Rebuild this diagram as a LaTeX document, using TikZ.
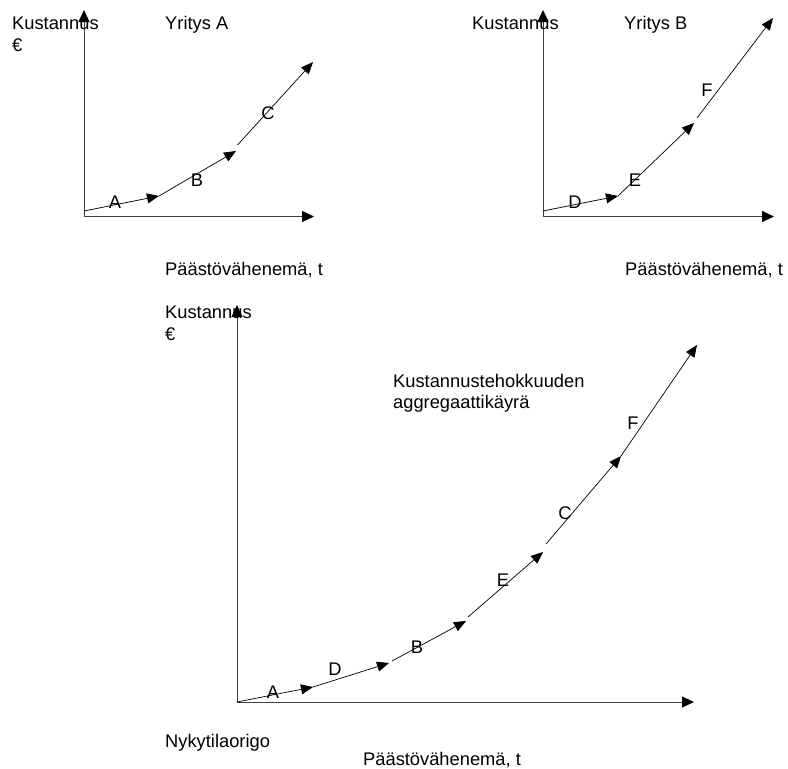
\documentclass[tikz,border=0pt]{standalone}
\usepackage{fontspec}
\setmainfont{Liberation Sans}
\usetikzlibrary{arrows.meta}
\begin{document}
\begin{tikzpicture}[x=1pt,y=-1pt,
  axis/.style={draw=black!75,line width=0.9pt,-{Triangle[length=12pt,width=11pt,fill=black,color=black]}},
  seg/.style={draw=black,line width=0.7pt,-{Triangle[length=12pt,width=10pt]}},
  segplain/.style={draw=black,line width=0.7pt},
  txt/.style={inner sep=0pt,anchor=base west,font=\fontsize{18.3}{21}\selectfont},
  lbl/.style={inner sep=0pt,anchor=center,font=\fontsize{18.3}{21}\selectfont}]
\useasboundingbox (0,0) rectangle (788,769);
\fill[white] (0,0) rectangle (788,769);

% ---------- Yritys A ----------
\coordinate (oA) at (84,216.5);
\coordinate (yA) at (84,10);
\coordinate (xA) at (314,216.5);
\draw[axis] (oA) -- (yA);
\draw[axis] (oA) -- (xA);
\coordinate (a0) at (84,211);
\coordinate (a1) at (159,196);
\coordinate (a2) at (236,151);
\coordinate (a3) at (237.5,145);
\coordinate (a4) at (313,62);
\draw[seg] (a0) -- (a1);
\draw[seg] (a1) -- (a2);
\draw[seg] (a3) -- (a4);
\node[lbl] (lA1) at (115,202) {A};
\node[lbl] (lB1) at (197,180) {B};
\node[lbl] (lC1) at (268,113) {C};
\node[txt] (kA) at (12,29) {Kustannus};
\node[txt] (eA) at (12,51) {€};
\node[txt] (yrA) at (165,29) {Yritys A};
\node[txt] (pA) at (165,275) {Päästövähenemä, t};

% ---------- Yritys B ----------
\coordinate (oB) at (543,216.5);
\coordinate (yB) at (543,10);
\coordinate (xB) at (774,216.5);
\draw[axis] (oB) -- (yB);
\draw[axis] (oB) -- (xB);
\coordinate (b0) at (543,211);
\coordinate (b1) at (618,196);
\coordinate (b2) at (694,123);
\coordinate (b3) at (697,118);
\coordinate (b4) at (773,18);
\draw[seg] (b0) -- (b1);
\draw[seg] (b1) -- (b2);
\draw[seg] (b3) -- (b4);
\node[lbl] (lD1) at (575,202) {D};
\node[lbl] (lE1) at (635,180) {E};
\node[lbl] (lF1) at (707,90) {F};
\node[txt] (kB) at (472,29) {Kustannus};
\node[txt] (yrB) at (624,29) {Yritys B};
\node[txt] (pB) at (625,275) {Päästövähenemä, t};

% ---------- Aggregaatti ----------
\coordinate (oC) at (237,702);
\coordinate (yC) at (237,305);
\coordinate (xC) at (694,702);
\draw[axis] (oC) -- (yC);
\draw[axis] (oC) -- (xC);
\coordinate (c0) at (237,702);
\coordinate (c1) at (313,687);
\coordinate (c2) at (389,663);
\coordinate (c3) at (392,661);
\coordinate (c4) at (466,621);
\coordinate (c5) at (468,617);
\coordinate (c6) at (543,552);
\coordinate (c7) at (546,544);
\coordinate (c8) at (621,456);
\coordinate (c9) at (697,345);
\draw[seg] (c0) -- (c1);
\draw[seg] (c1) -- (c2);
\draw[seg] (c3) -- (c4);
\draw[seg] (c5) -- (c6);
\draw[seg] (c7) -- (c8);
\draw[seg] (c8) -- (c9);
\node[lbl] (lA2) at (273,692) {A};
\node[lbl] (lD2) at (335,669) {D};
\node[lbl] (lB2) at (417,647) {B};
\node[lbl] (lE2) at (503,580) {E};
\node[lbl] (lC2) at (565,513) {C};
\node[lbl] (lF2) at (633,423) {F};
\node[txt] (kC) at (165,318) {Kustannus};
\node[txt] (eC) at (165,340) {€};
\node[txt] (agg1) at (393,387) {Kustannustehokkuuden};
\node[txt] (agg2) at (393,408) {aggregaattikäyrä};
\node[txt] (nyk) at (165,747) {Nykytilaorigo};
\node[txt] (pC) at (363,765) {Päästövähenemä, t};
\end{tikzpicture}
\end{document}
